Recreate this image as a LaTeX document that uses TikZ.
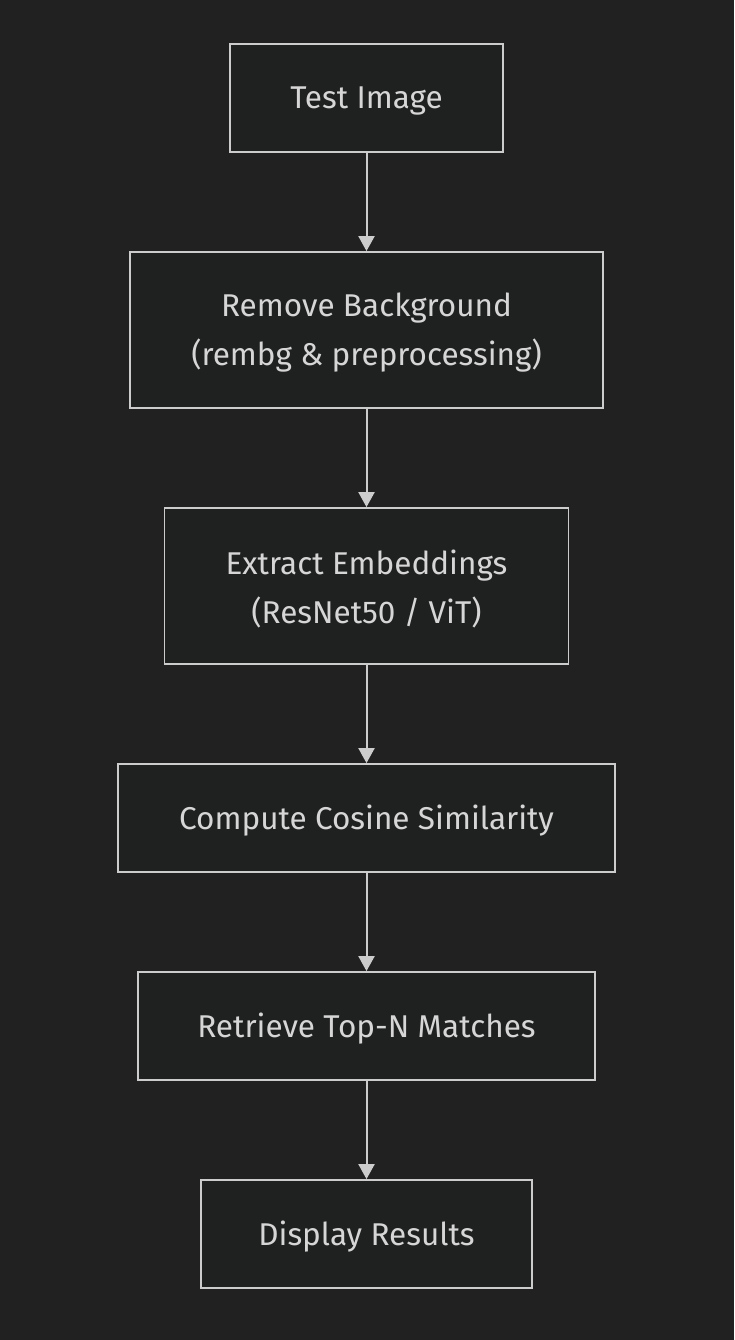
\documentclass[tikz,border=0pt]{standalone}
\usepackage{fontspec}
\setmainfont{Fira Sans}
\usetikzlibrary{arrows.meta}
\definecolor{bgc}{HTML}{212121}
\definecolor{nodefill}{HTML}{1F2020}
\definecolor{linec}{HTML}{CCCCCC}
\definecolor{txtc}{HTML}{D6D6D6}
\begin{document}
\begin{tikzpicture}[x=1pt,y=-1pt,
  box/.style={draw=linec, fill=nodefill, line width=1.8pt, inner sep=0pt},
  txt/.style={text=txtc, align=center, inner sep=0pt, font=\fontsize{31.5}{49}\selectfont, yshift=-3pt},
  conn/.style={draw=linec, line width=2pt, -{Triangle[length=15pt,width=16pt]}}]
\fill[bgc] (0,0) rectangle (734,1340);
\useasboundingbox (0,0) rectangle (734,1340);
\node[box, minimum width=273pt, minimum height=108pt, label={[txt]center:Test Image}] (a) at (366.5,98) {};
\node[box, minimum width=473pt, minimum height=156pt, label={[txt]center:Remove Background\\(rembg \& preprocessing)}] (b) at (366.5,330) {};
\node[box, minimum width=404pt, minimum height=156pt, label={[txt]center:Extract Embeddings\\(ResNet50 / ViT)}] (c) at (366.5,586) {};
\node[box, minimum width=497pt, minimum height=108pt, label={[txt]center:Compute Cosine Similarity}] (d) at (366.5,818) {};
\node[box, minimum width=457pt, minimum height=108pt, label={[txt]center:Retrieve Top-N Matches}] (e) at (366.5,1026) {};
\node[box, minimum width=331pt, minimum height=108pt, label={[txt]center:Display Results}] (f) at (366.5,1234) {};
\draw[conn] (a) -- (b);
\draw[conn] (b) -- (c);
\draw[conn] (c) -- (d);
\draw[conn] (d) -- (e);
\draw[conn] (e) -- (f);
\end{tikzpicture}
\end{document}
